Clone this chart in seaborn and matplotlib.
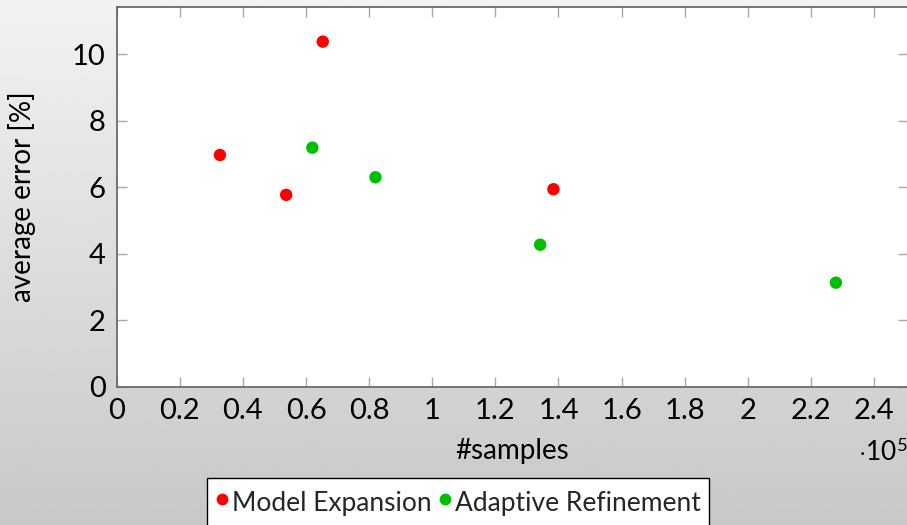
import numpy as np
import pandas as pd
import matplotlib
matplotlib.use("Agg")
import matplotlib.pyplot as plt
from matplotlib.lines import Line2D
from matplotlib.ticker import FuncFormatter, FixedLocator
import seaborn as sns

# Measured points: number of samples vs. average error in percent
model_expansion_samples = [32700, 53700, 65300, 138400]
model_expansion_error = [6.97, 5.77, 10.38, 5.94]
adaptive_refinement_samples = [62000, 82000, 134200, 227900]
adaptive_refinement_error = [7.19, 6.30, 4.27, 3.13]

series_names = ["Model Expansion", "Adaptive Refinement"]
series_colors = ["#ff0000", "#00bf00"]

x_ticks = [0, 20000, 40000, 60000, 80000, 100000, 120000, 140000,
           160000, 180000, 200000, 220000, 240000]
y_ticks = [0, 2, 4, 6, 8, 10]

df = pd.DataFrame({
    "samples": model_expansion_samples + adaptive_refinement_samples,
    "error": model_expansion_error + adaptive_refinement_error,
    "method": [series_names[0]] * len(model_expansion_samples)
              + [series_names[1]] * len(adaptive_refinement_samples),
})

sns.set_theme(style="ticks")
plt.rcParams["font.family"] = ["Lato", "DejaVu Sans"]
plt.rcParams["mathtext.fontset"] = "custom"
plt.rcParams["mathtext.rm"] = "Lato"
plt.rcParams["mathtext.it"] = "Lato:italic"

W, H = 907, 525
fig = plt.figure(figsize=(W / 100, H / 100), dpi=100)

# soft vertical gradient behind everything
bg = fig.add_axes([0, 0, 1, 1], zorder=-10)
grad = np.linspace(0.95, 0.785, 256).reshape(-1, 1)
bg.imshow(grad, cmap="gray", vmin=0, vmax=1, aspect="auto",
          extent=[0, 1, 0, 1], interpolation="bicubic")
bg.set_axis_off()

left, right, top, bottom = 116.7, 907.8, 6.7, 386.7
ax = fig.add_axes([left / W, 1 - bottom / H, (right - left) / W, (bottom - top) / H])
ax.set_facecolor("white")

sns.scatterplot(data=df, x="samples", y="error", hue="method",
                palette=dict(zip(series_names, series_colors)),
                s=80, linewidth=0, legend=False, ax=ax, zorder=3)

ax.set_xlim(0, 250700)
ax.set_ylim(0, 11.43)
ax.xaxis.set_major_locator(FixedLocator(x_ticks))
ax.yaxis.set_major_locator(FixedLocator(y_ticks))
ax.xaxis.set_major_formatter(FuncFormatter(lambda v, p: f"{v / 1e5:g}"))
ax.yaxis.set_major_formatter(FuncFormatter(lambda v, p: f"{v:g}"))

spine_color = "#6a6a6a"
for sp in ax.spines.values():
    sp.set_visible(True)
    sp.set_color(spine_color)
    sp.set_linewidth(1.3)

ax.tick_params(axis="both", which="major", direction="in", length=7.5,
               width=1.0, color="#a8a8a8", top=True, right=True,
               labelsize=21, labelcolor="black", pad=8)
ax.tick_params(axis="x", pad=8)

ax.set_xlabel("#samples", fontsize=20, labelpad=10, color="black")
ax.set_ylabel("average error [%]", fontsize=20, labelpad=26, color="black")

fig.text(858 / W, 1 - 452 / H, r"$\cdot10^{5}$", fontsize=19,
         ha="left", va="center", color="black")

handles = [Line2D([], [], marker="o", linestyle="none", markersize=8.5,
                  markerfacecolor=c, markeredgewidth=0) for c in series_colors]
leg = fig.legend(handles, series_names, loc="upper left",
                 bbox_to_anchor=(207 / W, 1 - 478 / H), bbox_transform=fig.transFigure,
                 ncol=2, frameon=True, fancybox=False, framealpha=1,
                 fontsize=19, handlelength=0.5, handleheight=1.55, handletextpad=0.15,
                 columnspacing=0.25, borderpad=0.3, borderaxespad=0)
leg.get_frame().set_edgecolor("black")
leg.get_frame().set_linewidth(1.0)

fig.savefig("out.png", dpi=100)
